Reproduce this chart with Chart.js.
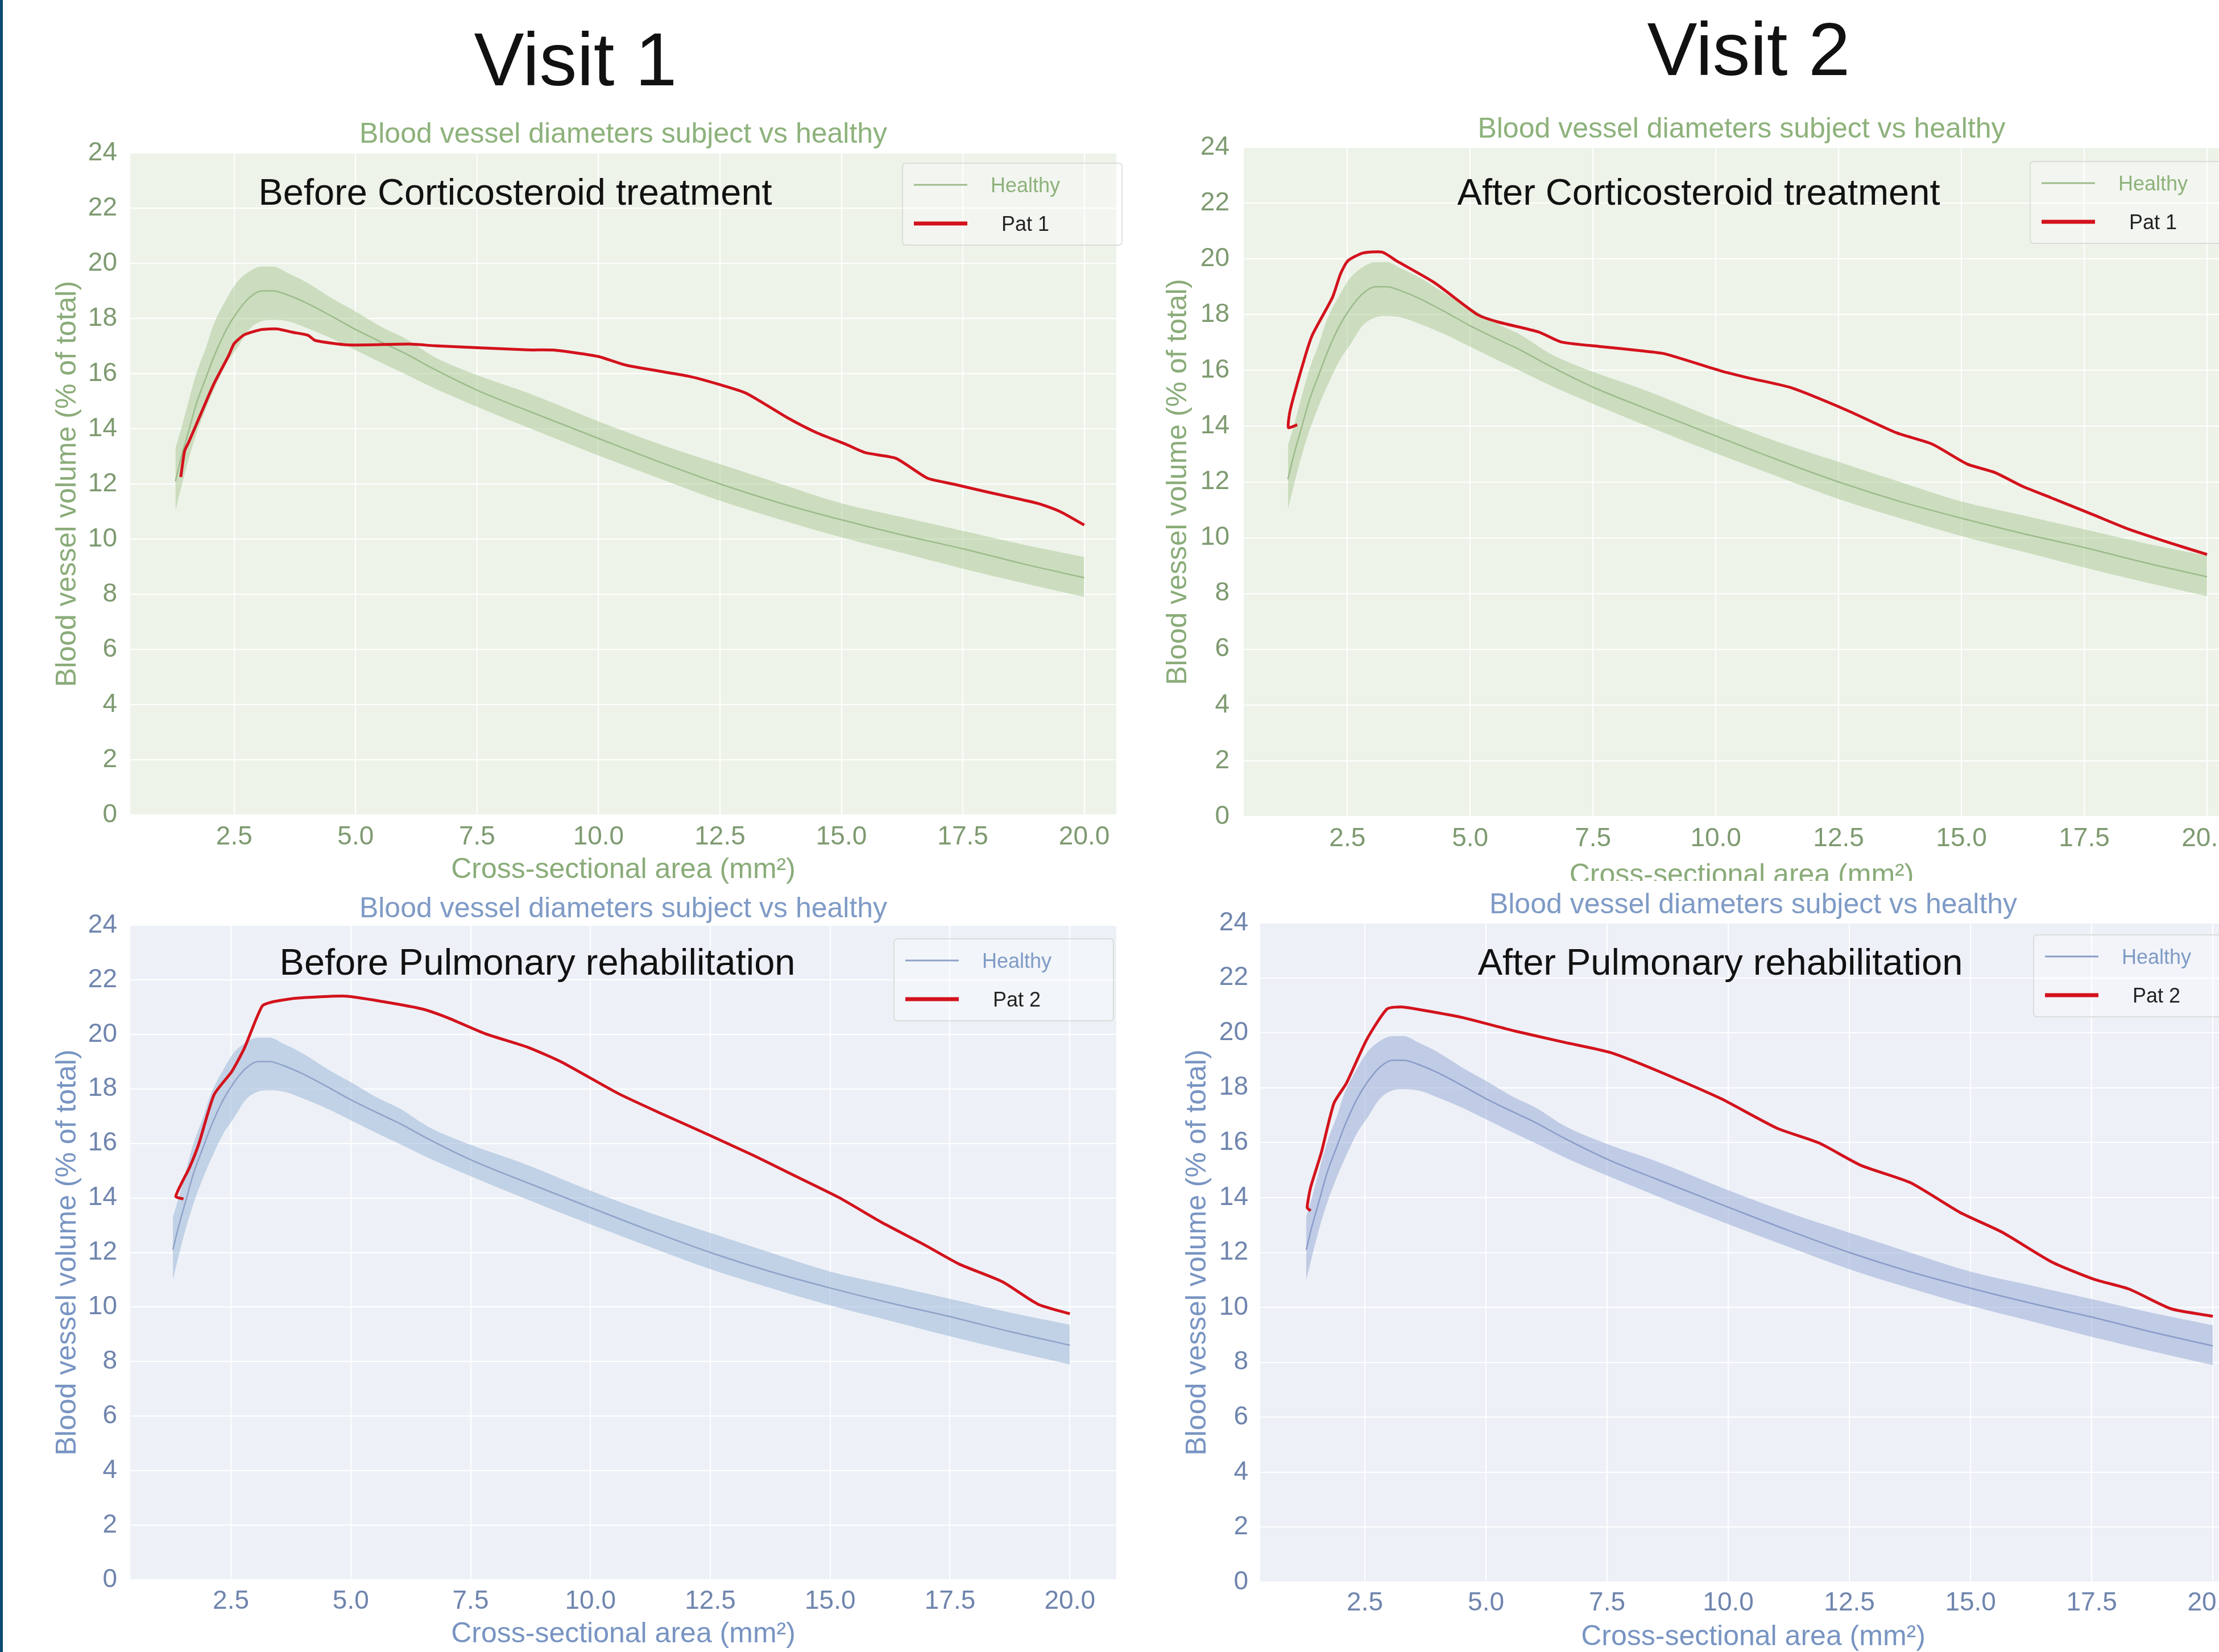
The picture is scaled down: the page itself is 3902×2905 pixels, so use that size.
<!DOCTYPE html>
<html>
<head>
<meta charset="utf-8">
<title>Blood vessel diameters subject vs healthy</title>
<script src="https://cdn.jsdelivr.net/npm/chart.js@4.4.1/dist/chart.umd.min.js"></script>
<style>
  html, body { margin: 0; padding: 0; background: #fff; width: 3902px; height: 2905px; overflow: hidden; }
  canvas { position: absolute; }
  .visit { position: absolute; font-family: "Liberation Sans", Arial, sans-serif; font-size: 132px; line-height: 132px;
           color: #111; transform: translateX(-50%); white-space: nowrap; }
  #edge { position: absolute; left: 0; top: 0; width: 5px; height: 2905px; background: #0c4a72; }
</style>
</head>
<body>
<div id="edge"></div>
<div class="visit" style="left:1012px; top:39px">Visit 1</div>
<div class="visit" style="left:3075px; top:21px">Visit 2</div>
<canvas id="tl"></canvas>
<canvas id="tr"></canvas>
<canvas id="bl"></canvas>
<canvas id="br"></canvas>
<script>
// ---- data ----
const xTicks = [2.5, 5.0, 7.5, 10.0, 12.5, 15.0, 17.5, 20.0];
const yTicks = [0, 2, 4, 6, 8, 10, 12, 14, 16, 18, 20, 22, 24];

// healthy reference (mean and band), same in every panel
const healthyX    = [1.29, 1.4, 1.56, 1.72, 1.93, 2.08, 2.34, 2.55, 2.81, 3.07, 3.3, 3.6, 4.0, 4.54, 5.0, 5.58, 6.0, 6.63, 7.5, 8.55, 10.0, 11.25, 12.5, 13.75, 15.0, 16.25, 17.5, 18.75, 20.0];
const healthyMean = [12.1, 12.9, 13.9, 14.9, 15.9, 16.6, 17.6, 18.2, 18.75, 19.0, 19.0, 18.85, 18.55, 18.05, 17.6, 17.1, 16.75, 16.15, 15.4, 14.65, 13.65, 12.8, 12.0, 11.3, 10.7, 10.15, 9.65, 9.1, 8.6];
const healthyHigh = [13.3, 13.95, 15.0, 16.0, 17.0, 17.8, 18.7, 19.3, 19.7, 19.88, 19.88, 19.65, 19.3, 18.7, 18.25, 17.65, 17.3, 16.6, 15.95, 15.3, 14.27, 13.45, 12.72, 12.0, 11.3, 10.8, 10.3, 9.8, 9.35];
const healthyLow  = [11.0, 11.8, 12.88, 13.8, 14.78, 15.4, 16.35, 16.9, 17.6, 17.9, 17.95, 17.9, 17.65, 17.25, 16.85, 16.35, 16.0, 15.46, 14.8, 14.04, 13.03, 12.2, 11.39, 10.7, 10.06, 9.5, 8.93, 8.4, 7.9];

// Pat 1, before corticosteroid treatment
const pat1BeforeX = [1.40, 1.48, 1.56, 1.77, 2.08, 2.39, 2.5, 2.71, 3.07, 3.39, 3.7, 4.02, 4.17, 4.85, 6.11, 6.63, 8.55, 9.1, 10.0, 10.56, 11.87, 12.5, 13.04, 13.92, 14.5, 15.09, 15.5, 16.12, 16.77, 17.29, 18.02, 19.05, 19.5, 20.0];
const pat1BeforeY = [12.25, 13.2, 13.5, 14.36, 15.62, 16.67, 17.09, 17.41, 17.6, 17.62, 17.5, 17.39, 17.2, 17.04, 17.07, 17.01, 16.86, 16.85, 16.62, 16.31, 15.9, 15.6, 15.29, 14.37, 13.85, 13.44, 13.13, 12.93, 12.21, 12.0, 11.7, 11.29, 11.0, 10.51];

// Pat 1, after corticosteroid treatment
const pat1AfterX = [1.48, 1.30, 1.34, 1.63, 1.79, 2.2, 2.36, 2.51, 2.82, 3.21, 3.5, 4.27, 5.15, 5.56, 6.39, 6.85, 7.63, 8.5, 8.95, 10.09, 10.67, 11.53, 12.67, 13.68, 14.4, 15.12, 15.68, 16.26, 16.83, 17.69, 18.4, 19.27, 20.0];
const pat1AfterY = [14.05, 13.95, 14.6, 16.44, 17.28, 18.63, 19.46, 19.93, 20.21, 20.24, 19.93, 19.15, 18.0, 17.74, 17.38, 17.02, 16.86, 16.7, 16.6, 15.99, 15.73, 15.38, 14.57, 13.76, 13.36, 12.64, 12.34, 11.83, 11.43, 10.82, 10.31, 9.8, 9.4];

// Pat 2, before pulmonary rehabilitation
const pat2BeforeX = [1.51, 1.35, 1.64, 1.83, 2.15, 2.52, 2.78, 3.15, 3.37, 3.84, 4.9, 5.7, 6.49, 7.02, 7.81, 8.7, 9.4, 10.58, 11.47, 12.51, 13.4, 14.14, 15.18, 16.07, 16.96, 17.7, 18.59, 19.33, 20.0];
const pat2BeforeY = [13.96, 14.06, 15.13, 15.98, 17.79, 18.64, 19.49, 21.03, 21.19, 21.32, 21.4, 21.19, 20.93, 20.61, 20.02, 19.52, 18.98, 17.83, 17.1, 16.28, 15.56, 14.92, 14.02, 13.11, 12.29, 11.57, 10.93, 10.11, 9.75];

// Pat 2, after pulmonary rehabilitation
const pat2AfterX = [1.38, 1.31, 1.38, 1.6, 1.86, 2.12, 2.54, 2.96, 3.27, 3.74, 4.53, 5.58, 6.63, 7.57, 8.56, 9.84, 11.0, 11.87, 12.74, 13.76, 14.78, 15.65, 16.67, 17.54, 18.27, 19.14, 20.0];
const pat2AfterY = [13.52, 13.63, 14.37, 15.63, 17.43, 18.17, 19.76, 20.87, 20.94, 20.81, 20.55, 20.07, 19.65, 19.28, 18.6, 17.61, 16.53, 15.99, 15.17, 14.54, 13.46, 12.74, 11.66, 11.03, 10.67, 9.95, 9.68];

// ---- styling ----
const FONT = '"Liberation Sans", Arial, Helvetica, sans-serif';
const RED = '#d3121c';
const green = { bg: '#eef3ea', band: 'rgba(160,196,138,0.45)', mean: '#9dbb8c', title: '#8db27b', axis: '#8aac79', tick: '#7e9a70' };
const blueL = { bg: '#edf1f7', band: 'rgba(150,178,214,0.5)', mean: '#8ea3c8', title: '#7f9bc6', axis: '#7894c2', tick: '#6f85ad' };
const blueR = { bg: '#edf0f7', band: 'rgba(148,166,212,0.5)', mean: '#8a9cc9', title: '#7f9bc6', axis: '#7894c2', tick: '#6f85ad' };

const pts = (xs, ys) => xs.map((x, i) => ({ x: x, y: ys[i] }));

// draws the plot background, the in-plot caption and the legend box
const panelDecor = {
  id: 'panelDecor',
  beforeDraw(chart, args, o) {
    const { ctx, chartArea: a } = chart;
    ctx.save();
    if (o.canvasFill) {
      ctx.fillStyle = o.canvasFill;
      ctx.fillRect(0, 0, chart.width, chart.height);
    }
    ctx.fillStyle = o.bg;
    ctx.fillRect(a.left, a.top, a.right - a.left, a.bottom - a.top);
    ctx.restore();
  },
  afterDraw(chart, args, o) {
    const ctx = chart.ctx;
    ctx.save();
    ctx.font = '65px ' + FONT;
    ctx.fillStyle = '#111';
    ctx.textAlign = 'center';
    ctx.textBaseline = 'middle';
    ctx.fillText(o.subtitle, o.subX, o.subY);

    // legend box
    const lx = o.legX, ly = o.legY;
    ctx.beginPath();
    ctx.roundRect(lx, ly, 386, 144, 6);
    ctx.fillStyle = 'rgba(255,255,255,0.3)';
    ctx.fill();
    ctx.strokeStyle = 'rgba(205,212,205,0.7)';
    ctx.lineWidth = 2;
    ctx.stroke();

    const sets = chart.data.datasets;
    const healthy = sets.find(d => d.label === 'Healthy');
    const pat = sets[0];
    const rows = [
      { ds: healthy, y: ly + 38, w: 3, text: o.legendText },
      { ds: pat, y: ly + 106, w: 7, text: '#222' }
    ];
    ctx.font = '36px ' + FONT;
    rows.forEach(r => {
      ctx.beginPath();
      ctx.moveTo(lx + 20, r.y);
      ctx.lineTo(lx + 114, r.y);
      ctx.strokeStyle = r.ds.borderColor;
      ctx.lineWidth = r.w;
      ctx.stroke();
      ctx.fillStyle = r.text;
      ctx.fillText(r.ds.label, lx + 216, r.y + 3);
    });
    ctx.restore();
  }
};
Chart.register(panelDecor);

const panels = [
  { id: 'tl', box: { left: 60, top: 190, width: 1930, height: 1370 }, theme: green,
    yw: 169, xh: 127, padRight: 27, titlePad: { top: 19.5, bottom: 4.5 }, yTitlePad: 29, yTickPad: 23, xTickPad: 12,
    xMin: 0.36, xMax: 20.66, subtitle: 'Before Corticosteroid treatment', sub: [906, 342], leg: [1587, 287],
    patLabel: 'Pat 1', patX: pat1BeforeX, patY: pat1BeforeY },
  { id: 'tr', box: { left: 2010, top: 190, width: 1950, height: 1380 }, theme: green,
    yw: 177, xh: 134, padRight: 22, titlePad: { top: 10.5, bottom: 3.5 }, yTitlePad: 32, yTickPad: 25, xTickPad: 12,
    xMin: 0.39, xMax: 20.66, subtitle: 'After Corticosteroid treatment', sub: [2987, 342], leg: [3570, 284],
    patLabel: 'Pat 1', patX: pat1AfterX, patY: pat1AfterY },
  { id: 'bl', box: { left: 60, top: 1560, width: 1930, height: 1344 }, theme: blueL,
    yw: 169, xh: 126, padRight: 27, titlePad: { top: 11.5, bottom: 0.5 }, yTitlePad: 29, yTickPad: 23, xTickPad: 11,
    xMin: 0.40, xMax: 20.97, subtitle: 'Before Pulmonary rehabilitation', sub: [945, 1696], leg: [1572, 1651],
    patLabel: 'Pat 2', patX: pat2BeforeX, patY: pat2BeforeY },
  { id: 'br', box: { left: 2050, top: 1549, width: 1920, height: 1360 }, theme: blueR, canvasFill: '#ffffff',
    yw: 166, xh: 127, padRight: 20, titlePad: { top: 15.5, bottom: 3.5 }, yTitlePad: 26, yTickPad: 21, xTickPad: 10,
    xMin: 0.34, xMax: 20.69, subtitle: 'After Pulmonary rehabilitation', sub: [3025, 1696], leg: [3576, 1644],
    patLabel: 'Pat 2', patX: pat2AfterX, patY: pat2AfterY }
];

panels.forEach(p => {
  const canvas = document.getElementById(p.id);
  canvas.width = p.box.width;
  canvas.height = p.box.height;
  canvas.style.left = p.box.left + 'px';
  canvas.style.top = p.box.top + 'px';
  canvas.style.width = p.box.width + 'px';
  canvas.style.height = p.box.height + 'px';
  const t = p.theme;

  new Chart(canvas.getContext('2d'), {
    type: 'line',
    data: {
      datasets: [
        { label: p.patLabel, data: pts(p.patX, p.patY), borderColor: RED, borderWidth: 5,
          pointRadius: 0, tension: 0.2, fill: false, order: 0 },
        { label: 'Healthy', data: pts(healthyX, healthyMean), borderColor: t.mean, borderWidth: 2.5,
          pointRadius: 0, cubicInterpolationMode: 'monotone', fill: false, order: 1 },
        { label: 'upper', data: pts(healthyX, healthyHigh), borderWidth: 0, borderColor: 'rgba(0,0,0,0)',
          backgroundColor: t.band, pointRadius: 0, cubicInterpolationMode: 'monotone', fill: '+1', order: 2 },
        { label: 'lower', data: pts(healthyX, healthyLow), borderWidth: 0, borderColor: 'rgba(0,0,0,0)',
          pointRadius: 0, cubicInterpolationMode: 'monotone', fill: false, order: 3 }
      ]
    },
    options: {
      responsive: false,
      animation: false,
      events: [],
      layout: { padding: { left: 0, right: p.padRight, top: 0, bottom: 0 } },
      scales: {
        x: {
          type: 'linear', min: p.xMin, max: p.xMax,
          afterBuildTicks: s => { s.ticks = xTicks.map(v => ({ value: v })); },
          afterFit: s => { s.height = p.xh; },
          ticks: { autoSkip: false, maxRotation: 0, padding: p.xTickPad, color: t.tick,
                   font: { family: FONT, size: 46 }, callback: v => Number(v).toFixed(1) },
          grid: { color: 'rgba(255,255,255,0.95)', lineWidth: 2, drawTicks: false },
          border: { display: false },
          title: { display: true, text: 'Cross-sectional area (mm²)', color: t.axis,
                   font: { family: FONT, size: 50 }, padding: { top: 0, bottom: 0 } }
        },
        y: {
          min: 0, max: 24,
          afterBuildTicks: s => { s.ticks = yTicks.map(v => ({ value: v })); },
          afterFit: s => { s.width = p.yw; },
          ticks: { padding: p.yTickPad, color: t.tick, font: { family: FONT, size: 46 } },
          grid: { color: 'rgba(255,255,255,0.95)', lineWidth: 2, drawTicks: false },
          border: { display: false },
          title: { display: true, text: 'Blood vessel volume (% of total)', color: t.axis,
                   font: { family: FONT, size: 50 }, padding: { top: p.yTitlePad, bottom: 0 } }
        }
      },
      plugins: {
        legend: { display: false },
        tooltip: { enabled: false },
        title: { display: true, fullSize: false, text: 'Blood vessel diameters subject vs healthy', color: t.title,
                 font: { family: FONT, size: 50, weight: 'normal', lineHeight: 1.1 }, padding: p.titlePad },
        panelDecor: {
          bg: t.bg, canvasFill: p.canvasFill, legendText: t.title,
          subtitle: p.subtitle, subX: p.sub[0] - p.box.left, subY: p.sub[1] - p.box.top,
          legX: p.leg[0] - p.box.left, legY: p.leg[1] - p.box.top
        }
      }
    }
  });
});
</script>
</body>
</html>
